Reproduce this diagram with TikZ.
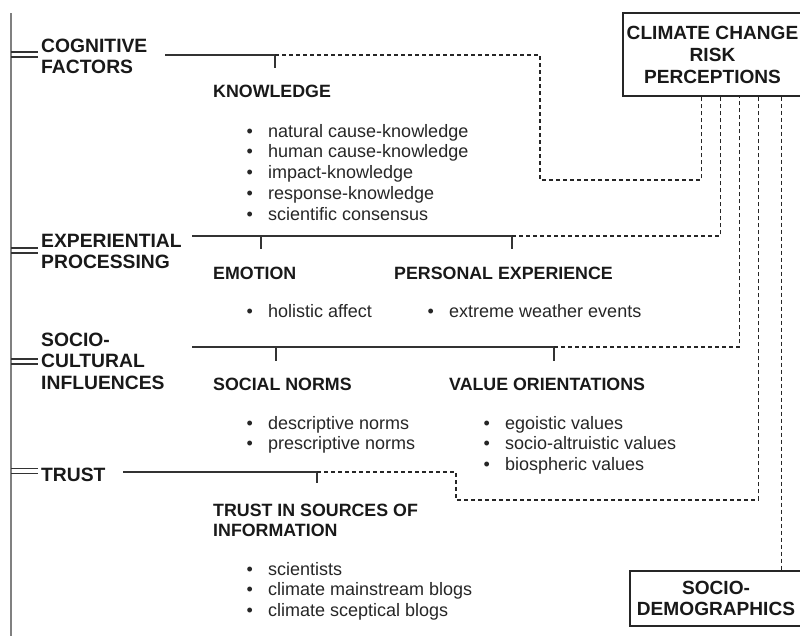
\documentclass[tikz,border=0pt]{standalone}
\usepackage{fontspec}
\setmainfont{Liberation Sans}
\usetikzlibrary{calc}
\newcommand{\itm}{\makebox[21.6pt][l]{\textbullet}}
\begin{document}
\begin{tikzpicture}[x=1pt,y=-1pt,
  cat/.style={font=\bfseries\fontsize{19.3}{21.5}\selectfont, anchor=base west, inner sep=0pt, text=black!90},
  sub/.style={font=\bfseries\fontsize{17.8}{20.5}\selectfont, anchor=base west, inner sep=0pt, text=black!90},
  lst/.style={font=\fontsize{18}{20.75}\selectfont, anchor=base west, inner sep=0pt, text=black!85},
  bigbox/.style={draw=black!85, line width=1.2pt, font=\bfseries\fontsize{19.1}{22}\selectfont, align=center, inner sep=0pt, text=black!90},
  ln/.style={line width=1.3pt, draw=black!80},
  spine/.style={line width=1.2pt, draw=black!50},
  dsh/.style={line width=1.2pt, draw=black!85, dash pattern=on 4pt off 3pt}]
\useasboundingbox (0,0) rectangle (800,635);
\clip (0,0) rectangle (800,635);

% boxes
\node[bigbox, minimum width=179pt, minimum height=83pt] (crp) at (712.5,54.5) {CLIMATE CHANGE\\RISK\\PERCEPTIONS};
\node[bigbox, minimum width=172pt, minimum height=55pt, font=\bfseries\fontsize{19.1}{20.5}\selectfont] (sdem) at (716,598.5) {SOCIO-\\DEMOGRAPHICS};

% category labels
\node[cat] (cog) at (41,52) {\begin{tabular}[t]{@{}l@{}}COGNITIVE\\FACTORS\end{tabular}};
\node[cat] (exp) at (41,247) {\begin{tabular}[t]{@{}l@{}}EXPERIENTIAL\\PROCESSING\end{tabular}};
\node[cat] (soc) at (41,346) {\begin{tabular}[t]{@{}l@{}}SOCIO-\\CULTURAL\\INFLUENCES\end{tabular}};
\node[cat] (tru) at (41,481) {TRUST};

% sub headings
\node[sub] (know) at (213,97) {KNOWLEDGE};
\node[sub] (emo) at (213,279) {EMOTION};
\node[sub] (pers) at (394,279) {PERSONAL EXPERIENCE};
\node[sub] (norms) at (213,390) {SOCIAL NORMS};
\node[sub] (vals) at (449,390) {VALUE ORIENTATIONS};
\node[sub] (tsi) at (213,516) {\begin{tabular}[t]{@{}l@{}}TRUST IN SOURCES OF\\INFORMATION\end{tabular}};

% lists
\node[lst] (klist) at (246.4,137) {\begin{tabular}[t]{@{}l@{}}\itm natural cause-knowledge\\\itm human cause-knowledge\\\itm impact-knowledge\\\itm response-knowledge\\\itm scientific consensus\end{tabular}};
\node[lst] (elist) at (246.4,317) {\itm holistic affect};
\node[lst] (plist) at (427.4,317) {\itm extreme weather events};
\node[lst] (nlist) at (246.4,429) {\begin{tabular}[t]{@{}l@{}}\itm descriptive norms\\\itm prescriptive norms\end{tabular}};
\node[lst] (vlist) at (483.4,429) {\begin{tabular}[t]{@{}l@{}}\itm egoistic values\\\itm socio-altruistic values\\\itm biospheric values\end{tabular}};
\node[lst] (tlist) at (246.4,575) {\begin{tabular}[t]{@{}l@{}}\itm scientists\\\itm climate mainstream blogs\\\itm climate sceptical blogs\end{tabular}};

% coordinates
\coordinate (sptop) at (11,13);
\coordinate (spbot) at (11,640);
\coordinate (crp1) at ($(crp.south west)+(79,0)$);
\coordinate (crp2) at ($(crp.south west)+(98,0)$);
\coordinate (crp3) at ($(crp.south west)+(117,0)$);
\coordinate (crp4) at ($(crp.south west)+(136,0)$);
\coordinate (crp5) at ($(crp.south west)+(159,0)$);

\coordinate (c0) at (165,55);
\coordinate (cj) at (275,55);
\coordinate (cjt) at (275,68);
\coordinate (cbend) at (540,180);

\coordinate (e0) at (192,236);
\coordinate (ej1) at (261,236);
\coordinate (ej1t) at (261,249);
\coordinate (ej2) at (512,236);
\coordinate (ej2t) at (512,249);

\coordinate (s0) at (192,347);
\coordinate (sj1) at (276,347);
\coordinate (sj1t) at (276,361);
\coordinate (sj2) at (554,347);
\coordinate (sj2t) at (554,361);

\coordinate (t0) at (123,472);
\coordinate (tj) at (317,472);
\coordinate (tjt) at (317,483);
\coordinate (tbend) at (456,500);

% spine and double links
\draw[spine] (sptop) -- (spbot);
\foreach \ya/\yb in {52/57, 248/253, 359/364, 468.5/473.5}{
  \draw[ln] (11,\ya) -- (38,\ya);
  \draw[ln] (11,\yb) -- (38,\yb);
}

% solid trees
\draw[ln] (c0) -- (cj) -- (cjt);
\draw[ln] (e0) -- (ej2) -- (ej2t);
\draw[ln] (ej1) -- (ej1t);
\draw[ln] (s0) -- (sj2) -- (sj2t);
\draw[ln] (sj1) -- (sj1t);
\draw[ln] (t0) -- (tj) -- (tjt);

% dashed links to risk perceptions
\draw[dsh] (cj) -| (cbend) -| (crp1);
\draw[dsh] (ej2) -| (crp2);
\draw[dsh] (sj2) -| (crp3);
\draw[dsh] (tj) -| (tbend) -| (crp4);
\draw[dsh] (crp5) -- (crp5 |- sdem.north);
\end{tikzpicture}
\end{document}
